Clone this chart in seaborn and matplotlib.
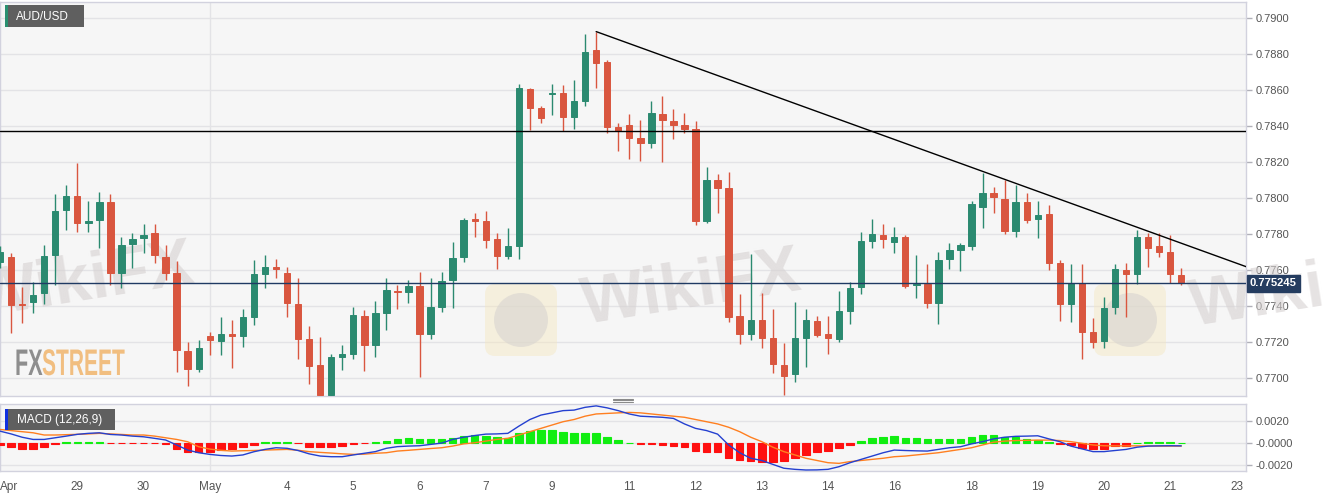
import numpy as np
import pandas as pd
import seaborn as sns
import matplotlib
matplotlib.use('Agg')
import matplotlib.pyplot as plt
from matplotlib.patches import Rectangle, FancyBboxPatch, Circle, PathPatch
from matplotlib.lines import Line2D
from matplotlib.transforms import Affine2D, blended_transform_factory
from matplotlib.textpath import TextPath
from matplotlib.font_manager import FontProperties

##AUD/USD 4H candles (0 = first candle at the left edge)
opens = [0.77644, 0.77672, 0.77411, 0.77422, 0.77472, 0.77683, 0.77933, 0.78011, 0.77861, 0.77878,
         0.77978, 0.77583, 0.77744, 0.77778, 0.77806, 0.77672, 0.77583, 0.77150, 0.77050, 0.77233,
         0.77206, 0.77244, 0.77233, 0.77339, 0.77578, 0.77617, 0.77583, 0.77411, 0.77217, 0.77072,
         0.76906, 0.77117, 0.77133, 0.77344, 0.77183, 0.77361, 0.77483, 0.77478, 0.77511, 0.77244,
         0.77394, 0.77544, 0.77672, 0.77883, 0.77872, 0.77772, 0.77678, 0.77733, 0.78606, 0.78500,
         0.78578, 0.78583, 0.78450, 0.78539, 0.78822, 0.78756, 0.78394, 0.78406, 0.78333, 0.78306,
         0.78467, 0.78428, 0.78406, 0.78383, 0.77872, 0.78100, 0.78056, 0.77344, 0.77244, 0.77322,
         0.77222, 0.77072, 0.77022, 0.77222, 0.77317, 0.77244, 0.77217, 0.77372, 0.77506, 0.77761,
         0.77794, 0.77756, 0.77783, 0.77517, 0.77522, 0.77417, 0.77661, 0.77711, 0.77733, 0.77950,
         0.78028, 0.77994, 0.77817, 0.77978, 0.77883, 0.77911, 0.77639, 0.77411, 0.77528, 0.77256,
         0.77206, 0.77394, 0.77600, 0.77578, 0.77783, 0.77733, 0.77700, 0.77572]
highs = [0.77733, 0.77694, 0.77506, 0.77533, 0.77739, 0.78022, 0.78072, 0.78194, 0.77983, 0.78033,
         0.78022, 0.77783, 0.77806, 0.77856, 0.77856, 0.77739, 0.77650, 0.77200, 0.77211, 0.77256,
         0.77339, 0.77322, 0.77383, 0.77656, 0.77683, 0.77661, 0.77617, 0.77556, 0.77289, 0.77228,
         0.77133, 0.77183, 0.77394, 0.77378, 0.77428, 0.77556, 0.77517, 0.77544, 0.77589, 0.77556,
         0.77589, 0.77756, 0.77889, 0.77917, 0.77928, 0.77806, 0.77833, 0.78633, 0.78611, 0.78511,
         0.78633, 0.78628, 0.78656, 0.78906, 0.78922, 0.78767, 0.78417, 0.78467, 0.78433, 0.78539,
         0.78567, 0.78494, 0.78472, 0.78428, 0.78172, 0.78133, 0.78144, 0.77467, 0.77689, 0.77472,
         0.77383, 0.77194, 0.77422, 0.77383, 0.77344, 0.77344, 0.77483, 0.77533, 0.77811, 0.77883,
         0.77856, 0.77839, 0.77794, 0.77683, 0.77633, 0.77700, 0.77750, 0.77750, 0.77983, 0.78139,
         0.78061, 0.78100, 0.78072, 0.78028, 0.77983, 0.77961, 0.77656, 0.77633, 0.77633, 0.77333,
         0.77450, 0.77633, 0.77639, 0.77822, 0.77806, 0.77806, 0.77794, 0.77611]
lows = [0.77611, 0.77250, 0.77306, 0.77361, 0.77411, 0.77517, 0.77822, 0.77811, 0.77811, 0.77722,
        0.77517, 0.77500, 0.77611, 0.77694, 0.77639, 0.77544, 0.77033, 0.76956, 0.77033, 0.77128,
        0.77128, 0.77056, 0.77172, 0.77294, 0.77500, 0.77556, 0.77339, 0.77106, 0.76967, 0.76900,
        0.76900, 0.77044, 0.77106, 0.77039, 0.77117, 0.77267, 0.77383, 0.77417, 0.77006, 0.77217,
        0.77367, 0.77389, 0.77644, 0.77783, 0.77722, 0.77606, 0.77661, 0.77661, 0.78378, 0.78417,
        0.78461, 0.78372, 0.78383, 0.78511, 0.78611, 0.78361, 0.78261, 0.78217, 0.78206, 0.78278,
        0.78200, 0.78328, 0.78361, 0.77850, 0.77861, 0.77917, 0.77311, 0.77189, 0.77211, 0.77167,
        0.77028, 0.76906, 0.76978, 0.77061, 0.77228, 0.77133, 0.77200, 0.77300, 0.77467, 0.77722,
        0.77722, 0.77694, 0.77500, 0.77444, 0.77389, 0.77300, 0.77606, 0.77594, 0.77711, 0.77833,
        0.77917, 0.77800, 0.77783, 0.77861, 0.77778, 0.77600, 0.77317, 0.77311, 0.77106, 0.77167,
        0.77167, 0.77356, 0.77339, 0.77522, 0.77617, 0.77672, 0.77528, 0.77517]
closes = [0.77700, 0.77406, 0.77403, 0.77461, 0.77678, 0.77928, 0.78011, 0.77861, 0.77872, 0.77978,
          0.77583, 0.77739, 0.77772, 0.77794, 0.77683, 0.77583, 0.77156, 0.77050, 0.77167, 0.77211,
          0.77244, 0.77233, 0.77339, 0.77578, 0.77617, 0.77606, 0.77417, 0.77217, 0.77067, 0.76906,
          0.77117, 0.77133, 0.77350, 0.77183, 0.77361, 0.77489, 0.77478, 0.77511, 0.77244, 0.77394,
          0.77539, 0.77667, 0.77878, 0.77872, 0.77767, 0.77678, 0.77733, 0.78611, 0.78500, 0.78444,
          0.78583, 0.78450, 0.78539, 0.78811, 0.78750, 0.78394, 0.78372, 0.78333, 0.78306, 0.78472,
          0.78433, 0.78406, 0.78383, 0.77872, 0.78100, 0.78056, 0.77339, 0.77244, 0.77322, 0.77222,
          0.77078, 0.77011, 0.77222, 0.77322, 0.77239, 0.77222, 0.77372, 0.77500, 0.77761, 0.77800,
          0.77772, 0.77783, 0.77511, 0.77522, 0.77417, 0.77656, 0.77711, 0.77739, 0.77967, 0.78028,
          0.78006, 0.77817, 0.77978, 0.77878, 0.77906, 0.77639, 0.77411, 0.77528, 0.77256, 0.77200,
          0.77389, 0.77606, 0.77578, 0.77783, 0.77722, 0.77700, 0.77578, 0.775245]

##MACD (12,26,9) panel
macd_line = [0.00105, 0.0008, 0.0005, 0.0003, 0.0003, 0.00045, 0.0006, 0.00076, 0.00085, 0.0009,
             0.00075, 0.0007, 0.0006, 0.00054, 0.0004, 0.00025, -0.0002, -0.00066, -0.0009, -0.00105,
             -0.00115, -0.0012, -0.0011, -0.00081, -0.0006, -0.00045, -0.0005, -0.0007, -0.001, -0.0012,
             -0.00126, -0.00126, -0.0011, -0.00095, -0.0008, -0.0005, -0.00035, -0.0003, -0.00027, -0.00015,
             -0.00003, 0.0003, 0.0005, 0.00065, 0.00078, 0.0008, 0.00085, 0.0015, 0.0021, 0.0025,
             0.0027, 0.0029, 0.00295, 0.0032, 0.00333, 0.00315, 0.0029, 0.0026, 0.0024, 0.00235,
             0.0023, 0.0022, 0.0017, 0.0013, 0.0011, 0.00078, -0.0002, -0.0009, -0.0014, -0.0016,
             -0.00195, -0.0023, -0.0024, -0.00246, -0.00245, -0.0024, -0.00216, -0.0018, -0.0015, -0.0012,
             -0.0009, -0.00066, -0.0007, -0.00073, -0.00075, -0.0006, -0.00045, -0.00036, -0.0001, 0.0001,
             0.00035, 0.0005, 0.00058, 0.0006, 0.00063, 0.00035, 0.0001, -0.0003, -0.00055, -0.0008,
             -0.0008, -0.0007, -0.0006, -0.0004, -0.0003, -0.00028, -0.00027, -0.00028]
signal_line = [0.0012, 0.0011, 0.001, 0.0009, 0.0007, 0.0007, 0.00073, 0.00076, 0.0008, 0.00085,
               0.0008, 0.00075, 0.0007, 0.0007, 0.0006, 0.00045, 0.0003, 0.00009, -0.00036, -0.00057,
               -0.00068, -0.00075, -0.00072, -0.0007, -0.00066, -0.00063, -0.0006, -0.00068, -0.0008, -0.00087,
               -0.00093, -0.001, -0.00105, -0.00103, -0.00095, -0.0009, -0.00075, -0.00068, -0.0006, -0.00052,
               -0.00045, -0.0003, -0.0001, 0.0, 0.00015, 0.0003, 0.0004, 0.0007, 0.001, 0.0013,
               0.0016, 0.0019, 0.0021, 0.0024, 0.0026, 0.00265, 0.0027, 0.00274, 0.0027, 0.0026,
               0.0025, 0.0024, 0.0023, 0.0021, 0.0019, 0.0017, 0.0014, 0.001, 0.0005, 0.0001,
               -0.0004, -0.0008, -0.0011, -0.0014, -0.0016, -0.0018, -0.00186, -0.0017, -0.0016, -0.0015,
               -0.0014, -0.00126, -0.0012, -0.0011, -0.001, -0.0009, -0.00075, -0.0006, -0.00045, -0.0002,
               0.00005, 0.00015, 0.0002, 0.00022, 0.00024, 0.00024, 0.0002, 0.0001, -0.00005, -0.0002,
               -0.00027, -0.00028, -0.00028, -0.00028, -0.00029, -0.0003, -0.0003, -0.0003]
macd_hist = [-0.0002, -0.00042, -0.00057, -0.00057, -0.00042, -0.00015, 0.00005, 0.00005, 0.00005, 0.0001,
             -0.00005, -0.00005, -0.00005, -0.00005, -0.00005, -0.0001, -0.0006, -0.0008, -0.00087, -0.0008,
             -0.00066, -0.0006, -0.00042, -0.0002, 0.00005, 0.0001, 0.00005, -0.00003, -0.00035, -0.0004,
             -0.00035, -0.0003, -0.0001, -0.00005, 0.00005, 0.0002, 0.00035, 0.0004, 0.0003, 0.0003,
             0.00035, 0.00045, 0.0006, 0.0007, 0.0006, 0.00055, 0.00045, 0.0009, 0.0011, 0.00115,
             0.00115, 0.001, 0.0009, 0.0009, 0.00085, 0.00055, 0.00025, 0.0, -0.00015, -0.00015,
             -0.0002, -0.00025, -0.00035, -0.00075, -0.0008, -0.00085, -0.00135, -0.0016, -0.00165, -0.0017,
             -0.0017, -0.00165, -0.0014, -0.0011, -0.00087, -0.0007, -0.00045, -0.0002, 0.00015, 0.00045,
             0.0005, 0.0006, 0.00045, 0.00042, 0.0003, 0.0003, 0.00035, 0.00035, 0.0005, 0.0007,
             0.0007, 0.00055, 0.00055, 0.00035, 0.00028, 0.00008, -0.00015, -0.0002, -0.00045, -0.00057,
             -0.00057, -0.0003, -0.00025, 0.0, 0.00005, 0.00005, 0.00004, 0.00002]

##date labels (positions in candles)
tick_pos = [0, 7, 13, 19, 26, 32, 38, 44, 50, 57, 63, 69, 75, 81, 88, 94, 100, 106, 112]
tick_labels = ['Apr', '29', '30', 'May', '4', '5', '6', '7', '9', '11', '12', '13', '14', '16', '18', '19', '20', '21', '23']

##drawn levels
resistance = 0.78371
trend_x = [54, 112.9]
trend_y = [0.78922, 0.77617]
last_price = 0.775245

GREEN = '#2b8a70'
RED = '#d9563f'
BG = '#f6f6f6'
GRID = '#e3e3e6'
SPINE = '#d2d2de'
TXT = '#555555'

sns.set_theme(style='white')
plt.rcParams['font.family'] = ['Liberation Sans', 'DejaVu Sans']

W, H = 1323, 497
fig = plt.figure(figsize=(W / 100, H / 100), dpi=100)
fig.patch.set_facecolor('white')
pix = Affine2D().scale(1 / W, -1 / H).translate(0, 1) + fig.transFigure

ax = fig.add_axes([0, 1 - 396 / H, 1246 / W, 394.5 / H])
axm = fig.add_axes([0, 1 - 471 / H, 1246 / W, 67 / H], sharex=ax)

df = pd.DataFrame({'open': opens, 'high': highs, 'low': lows, 'close': closes})
df['idx'] = np.arange(len(df))
df['up'] = df['close'] >= df['open']
cols = np.where(df['up'], GREEN, RED)

##candles
ax.vlines(df['idx'], df['low'], df['high'], colors=cols, lw=1, zorder=4)
ax.bar(df['idx'], (df['close'] - df['open']).abs(), bottom=df[['open', 'close']].min(axis=1),
       width=0.58, color=cols, edgecolor=cols, linewidth=0.7, zorder=5)

ax.axhline(resistance, color='black', lw=1, zorder=6)
sns.lineplot(x=trend_x, y=trend_y, ax=ax, color='black', lw=1, zorder=6)
ax.axhline(last_price, color='#1f3a63', lw=1, zorder=6)

ax.set_facecolor(BG)
ax.set_ylim(0.7690, 0.79089)
ax.set_xlim(0, 1246 / 11.04)
ax.set_yticks(np.arange(0.7700, 0.79001, 0.0020))
ax.yaxis.set_major_formatter(matplotlib.ticker.FormatStrFormatter('%.4f'))
ax.yaxis.tick_right()
ax.grid(axis='y', color=GRID, lw=1, zorder=0)
ax.axvline(tick_pos[tick_labels.index('May')], color=GRID, lw=1, zorder=0)
ax.tick_params(axis='y', direction='out', length=4, width=1, color='#b0b0b8', labelcolor=TXT, labelsize=8, pad=3)
ax.tick_params(axis='x', length=0, labelbottom=False)
for s in ax.spines.values():
    s.set_color(SPINE)
    s.set_linewidth(1)

ax.text(1.003, last_price, '%.6f' % last_price, transform=blended_transform_factory(ax.transAxes, ax.transData),
        ha='left', va='center', color='white', fontsize=8, fontweight='bold',
        bbox=dict(boxstyle='square,pad=0.28', fc='#253d60', ec='#253d60'), clip_on=False, zorder=10)

##MACD panel
hcols = np.where(np.array(macd_hist) >= 0, '#11ee11', '#ff1010')
axm.bar(df['idx'], macd_hist, width=0.68, color=hcols, edgecolor=hcols, linewidth=0.8, zorder=3)
sns.lineplot(x=df['idx'], y=signal_line, ax=axm, color='#ff7f20', lw=1, zorder=4)
sns.lineplot(x=df['idx'], y=macd_line, ax=axm, color='#2440d0', lw=1, zorder=5)
axm.set_facecolor(BG)
axm.set_ylim(-0.00255, 0.0035)
axm.set_yticks([0.002, 0.0, -0.002])
axm.set_yticklabels(['0.0020', '-0.0000', '-0.0020'])
axm.yaxis.tick_right()
axm.grid(axis='y', color=GRID, lw=1, zorder=0)
axm.axvline(tick_pos[tick_labels.index('May')], color=GRID, lw=1, zorder=0)
axm.set_xticks(tick_pos)
axm.set_xticklabels(tick_labels)
axm.get_xticklabels()[0].set_ha('left')
axm.tick_params(axis='y', direction='out', length=4, width=1, color='#b0b0b8', labelcolor=TXT, labelsize=8, pad=3)
axm.tick_params(axis='x', direction='out', length=3, width=1, color='#b0b0b8', labelcolor=TXT, labelsize=8.5, pad=4)
axm.set_xlabel('')
axm.set_ylabel('')
ax.set_xlabel('')
ax.set_ylabel('')
for s in axm.spines.values():
    s.set_color(SPINE)
    s.set_linewidth(1)

##label boxes
fig.patches.append(Rectangle((5, 5), 79, 22, transform=pix, fc='#5f5f5f', ec='none'))
fig.patches.append(Rectangle((5, 5), 2.5, 22, transform=pix, fc='#2a9070', ec='none'))
fig.text(16 / W, 1 - 16.5 / H, 'AUD/USD', color='white', fontsize=8.5, va='center', ha='left')
fig.patches.append(Rectangle((5, 409), 110, 21, transform=pix, fc='#5f5f5f', ec='none'))
fig.patches.append(Rectangle((5, 409), 2.5, 21, transform=pix, fc='#1030e0', ec='none'))
fig.text(17 / W, 1 - 419.5 / H, 'MACD (12,26,9)', color='white', fontsize=8.5, va='center', ha='left')

##panel grip
for gy in (398.5, 400.3, 402.1):
    fig.lines.append(Line2D([613, 633], [gy, gy], transform=pix, color='#8a8a8a', lw=0.8))

##watermarks
for cx, cy in [(521, 320), (1130, 320)]:
    ax.add_patch(FancyBboxPatch((cx - 36, cy - 36), 72, 72, boxstyle='round,pad=0,rounding_size=10',
                                transform=pix, fc='#f5e7c0', ec='none', alpha=0.45, zorder=1, clip_on=False))
    ax.add_patch(Circle((cx, cy), 27, transform=pix, fc='#d8d4d0', ec='none', alpha=0.6, zorder=1, clip_on=False))
for cx, cy in [(85, 283), (692, 290), (1300, 292)]:
    ax.text(cx, cy, 'WikiFX', transform=pix, fontsize=48, fontweight='bold', color='#d6d1d1', alpha=0.6,
            rotation=9, ha='center', va='center', zorder=1, clip_on=False)

##FXSTREET logo
fp = FontProperties(family='Liberation Sans', weight='bold')
tp_fx = TextPath((0, 0), 'FX', size=37, prop=fp)
tp_st = TextPath((0, 0), 'STREET', size=37, prop=fp)
w_fx = tp_fx.get_extents().width
w_st = tp_st.get_extents().width
fig.patches.append(PathPatch(tp_fx, transform=Affine2D().scale(26 / w_fx, -1).translate(15, 375) + pix,
                             fc='#8e8e8e', ec='none'))
fig.patches.append(PathPatch(tp_st, transform=Affine2D().scale(82 / w_st, -1).translate(42, 375) + pix,
                             fc='#f1be80', ec='none'))

fig.savefig('out.png', dpi=100, facecolor='white')
